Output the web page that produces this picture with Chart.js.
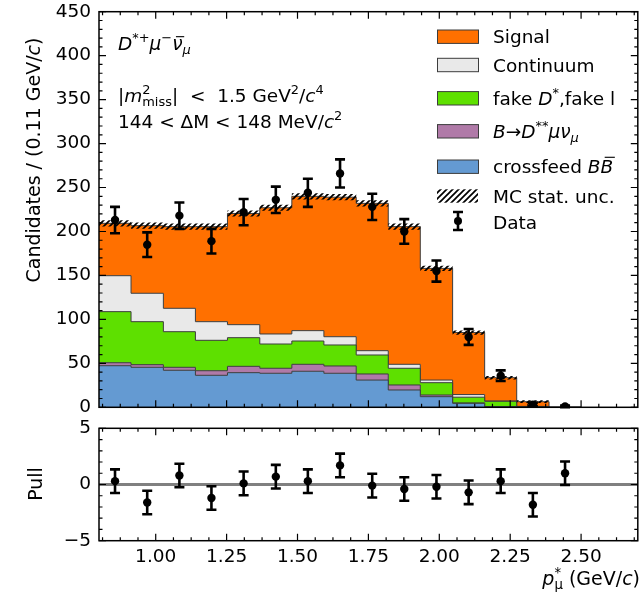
<!DOCTYPE html>
<html>
<head>
<meta charset="utf-8">
<script src="https://cdn.jsdelivr.net/npm/chart.js@4.4.1/dist/chart.umd.min.js"></script>
<style>
html, body { margin: 0; padding: 0; background: #fff; overflow: hidden; }
#wrap { position: relative; width: 642px; height: 611px; }
canvas { position: absolute; left: 0; }
#main { top: 0; }
#pull { top: 405px; }
</style>
</head>
<body>
<div id="wrap">
  <canvas id="main" width="642" height="420"></canvas>
  <canvas id="pull" width="642" height="206"></canvas>
</div>
<script>
// bin edges of p*_mu (GeV/c), 15 bins
const binEdges = [0.800, 0.913, 1.027, 1.140, 1.253, 1.367, 1.480, 1.593, 1.707, 1.820, 1.933, 2.047, 2.160, 2.273, 2.387, 2.500];

// MC components per bin (stacked bottom -> top)
const crossfeedBB = [47.3, 45.5, 42.1, 36.4, 39.4, 38.7, 41.0, 38.7, 31.0, 19.7, 12.1, 4.5, 0.5, 0.0, 0.0];
const dssMuNu     = [3.4, 3.0, 3.4, 5.2, 7.2, 5.7, 7.9, 8.3, 6.9, 5.7, 1.9, 0.5, 0.3, 0.0, 0.0];
const fakeDstar   = [58.1, 48.9, 40.5, 34.6, 32.6, 27.6, 26.5, 23.9, 21.6, 19.0, 14.0, 6.5, 6.0, 0.8, 0.0];
const continuum   = [40.9, 32.3, 26.6, 21.2, 14.8, 11.4, 11.8, 9.4, 4.9, 4.5, 3.0, 3.0, 0.4, 0.2, 0.0];
const signal      = [59.6, 76.9, 92.9, 108.1, 126.5, 143.6, 152.8, 158.7, 167.6, 156.6, 127.0, 70.5, 26.5, 5.4, 0.0];
const mcStatUnc   = [3.5, 3.5, 3.5, 3.5, 3.5, 3.5, 3.5, 3.5, 3.5, 3.5, 3.0, 2.5, 2.0, 1.5, 0.0];

// data
const dataCounts = [213, 185, 218, 189, 222, 236, 244, 266, 228, 200, 155, 80, 36, 3, 1];
const dataErrors = [15, 14, 15, 14, 15, 15, 16, 16, 15, 14, 12, 9, 6, 2, 1];

// pulls
const pullValues = [0.3, -1.6, 0.8, -1.2, 0.1, 0.7, 0.3, 1.7, -0.1, -0.4, -0.2, -0.7, 0.3, -1.8, 1.0];
const pullErrors = [1.05, 1.05, 1.05, 1.05, 1.05, 1.05, 1.05, 1.05, 1.05, 1.05, 1.05, 1.05, 1.05, 1.05, 1.05];

// tick labels
const xTicks = [1.00, 1.25, 1.50, 1.75, 2.00, 2.25, 2.50];
const yTicks = [0, 50, 100, 150, 200, 250, 300, 350, 400, 450];
const pullTicks = [-5, 0, 5];

const FONT = '"DejaVu Sans", sans-serif';
const C_SIGNAL = '#ff7000';
const C_CONT = '#e9e9e9';
const C_FAKE = '#5ee000';
const C_DSS = '#b07aa8';
const C_XFEED = '#649ad2';
const C_EDGE = '#3c3c3c';

const binCenters = binEdges.slice(0, -1).map((e, i) => (e + binEdges[i + 1]) / 2);
const totals = signal.map((s, i) => s + continuum[i] + fakeDstar[i] + dssMuNu[i] + crossfeedBB[i]);

// points at lower bin edges, drawn as steps; last edge repeats the last value
function stepPoints(values) {
    return binEdges.map((x, i) => ({ x, y: values[Math.min(i, values.length - 1)] }));
}

function hatchPattern() {
    const c = document.createElement('canvas');
    c.width = 6; c.height = 6;
    const g = c.getContext('2d');
    g.strokeStyle = '#000';
    g.lineWidth = 1.7;
    g.beginPath();
    g.moveTo(-1, 7); g.lineTo(7, -1);
    g.moveTo(-1, 1); g.lineTo(1, -1);
    g.moveTo(5, 7); g.lineTo(7, 5);
    g.stroke();
    return g.createPattern(c, 'repeat');
}
const HATCH = hatchPattern();

// rich text: segments {t, it, pos:'sup'|'sub', hold, bar}
function drawRich(ctx, segs, x, y, size, align) {
    const fnt = s => (s.it ? 'italic ' : '') + (s.pos ? size * 0.7 : size) + 'px ' + FONT;
    const widths = [];
    let total = 0, held = 0;
    segs.forEach((s, i) => {
        ctx.font = fnt(s);
        widths[i] = ctx.measureText(s.t).width;
        if (s.hold) { held = widths[i]; return; }
        total += Math.max(widths[i], held);
        held = 0;
    });
    let cx = align === 'right' ? x - total : align === 'center' ? x - total / 2 : x;
    held = 0;
    ctx.textAlign = 'left';
    ctx.textBaseline = 'alphabetic';
    segs.forEach((s, i) => {
        ctx.font = fnt(s);
        const dy = s.pos === 'sup' ? -0.42 * size : s.pos === 'sub' ? 0.22 * size : 0;
        ctx.fillText(s.t, cx, y + dy);
        if (s.bar) {
            const by = y + dy - s.bar * size;
            const sk = s.it ? 0.12 * size : 0;
            ctx.save();
            ctx.strokeStyle = ctx.fillStyle;
            ctx.lineWidth = size * 0.06;
            ctx.beginPath();
            ctx.moveTo(cx + widths[i] * 0.15 + sk, by);
            ctx.lineTo(cx + widths[i] * 0.95 + sk, by);
            ctx.stroke();
            ctx.restore();
        }
        if (s.hold) { held = widths[i]; return; }
        cx += Math.max(widths[i], held);
        held = 0;
    });
}

// inward ticks on all four sides plus the frame
function frameTicks(xStep, xMajor, yStep, yMajor) {
    return {
        id: 'frameTicks',
        afterDraw(chart) {
            const { ctx, chartArea: a } = chart;
            const xs = chart.scales.x, ys = chart.scales.y;
            ctx.save();
            ctx.strokeStyle = '#000';
            ctx.lineWidth = 1.2;
            ctx.beginPath();
            const isMajor = (v, m) => Math.abs(v / m - Math.round(v / m)) < 1e-6;
            for (let k = Math.ceil(xs.min / xStep - 1e-6); k * xStep <= xs.max + 1e-9; k++) {
                const v = k * xStep;
                const px = xs.getPixelForValue(v);
                const len = isMajor(v, xMajor) ? 7 : 3.5;
                ctx.moveTo(px, a.bottom); ctx.lineTo(px, a.bottom - len);
                ctx.moveTo(px, a.top); ctx.lineTo(px, a.top + len);
            }
            for (let k = Math.ceil(ys.min / yStep - 1e-6); k * yStep <= ys.max + 1e-9; k++) {
                const v = k * yStep;
                const py = ys.getPixelForValue(v);
                const len = isMajor(v, yMajor) ? 7 : 3.5;
                ctx.moveTo(a.left, py); ctx.lineTo(a.left + len, py);
                ctx.moveTo(a.right, py); ctx.lineTo(a.right - len, py);
            }
            ctx.stroke();
            ctx.lineWidth = 1.5;
            ctx.strokeRect(a.left, a.top, a.right - a.left, a.bottom - a.top);
            ctx.restore();
        }
    };
}

function errorBars(vals, errs, yId) {
    return {
        id: 'errorBars',
        afterDatasetsDraw(chart) {
            const ctx = chart.ctx;
            const xs = chart.scales.x, ys = chart.scales[yId];
            ctx.save();
            ctx.strokeStyle = '#000';
            ctx.lineWidth = 2.6;
            ctx.beginPath();
            binCenters.forEach((c, i) => {
                const px = xs.getPixelForValue(c);
                const lo = ys.getPixelForValue(Math.max(vals[i] - errs[i], ys.min));
                const hi = ys.getPixelForValue(vals[i] + errs[i]);
                ctx.moveTo(px, lo); ctx.lineTo(px, hi);
                ctx.moveTo(px - 5, lo); ctx.lineTo(px + 5, lo);
                ctx.moveTo(px - 5, hi); ctx.lineTo(px + 5, hi);
            });
            ctx.stroke();
            ctx.restore();
        }
    };
}

const annotations = {
    id: 'annotations',
    afterDraw(chart) {
        const ctx = chart.ctx;
        ctx.save();
        ctx.fillStyle = '#000';
        // y axis title
        ctx.save();
        ctx.translate(40, 160);
        ctx.rotate(-Math.PI / 2);
        drawRich(ctx, [{ t: 'Candidates / (0.11 GeV/' }, { t: 'c', it: 1 }, { t: ')' }], 0, 0, 19, 'center');
        ctx.restore();

        drawRich(ctx, [
            { t: 'D', it: 1 }, { t: '*+', pos: 'sup' }, { t: 'μ', it: 1 }, { t: '−', pos: 'sup' },
            { t: 'ν', it: 1, bar: 0.72 }, { t: 'μ', it: 1, pos: 'sub' }
        ], 118, 50, 18.5, 'left');
        drawRich(ctx, [
            { t: '|' }, { t: 'm', it: 1 }, { t: '2', pos: 'sup', hold: 1 }, { t: 'miss', pos: 'sub' },
            { t: '|  <  1.5 GeV' }, { t: '2', pos: 'sup' }, { t: '/' }, { t: 'c', it: 1 }, { t: '4', pos: 'sup' }
        ], 118, 102, 18.5, 'left');
        drawRich(ctx, [
            { t: '144 < ΔM < 148 MeV/' }, { t: 'c', it: 1 }, { t: '2', pos: 'sup' }
        ], 118, 128, 18.5, 'left');

        // legend
        const rows = [
            { segs: [{ t: 'Signal' }], fill: C_SIGNAL, y: 36.7 },
            { segs: [{ t: 'Continuum' }], fill: C_CONT, y: 65 },
            { segs: [{ t: 'fake ' }, { t: 'D', it: 1 }, { t: '*', pos: 'sup' }, { t: ',fake l' }], fill: C_FAKE, y: 98.3 },
            { segs: [{ t: 'B', it: 1 }, { t: '→' }, { t: 'D', it: 1 }, { t: '**', pos: 'sup' }, { t: 'μν', it: 1 }, { t: 'μ', it: 1, pos: 'sub' }], fill: C_DSS, y: 131.3 },
            { segs: [{ t: 'crossfeed ' }, { t: 'B', it: 1 }, { t: 'B', it: 1, bar: 0.86 }], fill: C_XFEED, y: 166.7 },
            { segs: [{ t: 'MC stat. unc.' }], fill: 'hatch', y: 196 },
            { segs: [{ t: 'Data' }], fill: 'data', y: 221 }
        ];
        rows.forEach(r => {
            if (r.fill === 'data') {
                ctx.strokeStyle = '#000';
                ctx.lineWidth = 2.6;
                ctx.beginPath();
                ctx.moveTo(458, r.y - 9); ctx.lineTo(458, r.y + 9);
                ctx.moveTo(453, r.y - 9); ctx.lineTo(463, r.y - 9);
                ctx.moveTo(453, r.y + 9); ctx.lineTo(463, r.y + 9);
                ctx.stroke();
                ctx.beginPath();
                ctx.arc(458, r.y, 4, 0, Math.PI * 2);
                ctx.fill();
            } else if (r.fill === 'hatch') {
                ctx.fillStyle = HATCH;
                ctx.fillRect(437, r.y - 6.7, 41, 13.4);
                ctx.fillStyle = '#000';
            } else {
                ctx.fillStyle = r.fill;
                ctx.fillRect(437, r.y - 6.7, 41, 13.4);
                ctx.strokeStyle = C_EDGE;
                ctx.lineWidth = 1;
                ctx.strokeRect(437.5, r.y - 6.7, 41, 13.4);
                ctx.fillStyle = '#000';
            }
            drawRich(ctx, r.segs, 493, r.y + (r.fill === 'data' ? 8 : 6.5), 18.5, 'left');
        });
        ctx.restore();
    }
};

function component(values, color, fill) {
    return {
        data: stepPoints(values),
        stepped: true,
        fill,
        backgroundColor: color,
        borderColor: C_EDGE,
        borderWidth: 1,
        pointRadius: 0,
        order: 10
    };
}

const tickFont = { family: FONT, size: 18.5 };
// invisible tick marks keep the labels 8px off the frame without adding label padding
const hiddenGrid = { display: true, drawOnChartArea: false, drawTicks: true, tickLength: 8, color: 'rgba(0,0,0,0)' };

new Chart(document.getElementById('main'), {
    type: 'line',
    data: {
        datasets: [
            component(crossfeedBB, C_XFEED, 'origin'),
            component(dssMuNu, C_DSS, '-1'),
            component(fakeDstar, C_FAKE, '-1'),
            component(continuum, C_CONT, '-1'),
            component(signal, C_SIGNAL, '-1'),
            {
                yAxisID: 'y2',
                data: stepPoints(totals.map((t, i) => t - mcStatUnc[i])),
                stepped: true, fill: false, borderWidth: 0, pointRadius: 0, order: 5
            },
            {
                yAxisID: 'y2',
                data: stepPoints(totals.map((t, i) => t + mcStatUnc[i])),
                stepped: true, fill: '-1', backgroundColor: HATCH, borderWidth: 0, pointRadius: 0, order: 5
            },
            {
                yAxisID: 'y2',
                data: binCenters.map((x, i) => ({ x, y: dataCounts[i] })),
                showLine: false, pointRadius: 4.2, pointBackgroundColor: '#000', pointBorderWidth: 0, order: 0
            }
        ]
    },
    options: {
        responsive: false,
        animation: false,
        devicePixelRatio: 1,
        layout: { padding: { top: 11.7, right: 0, bottom: 12.7, left: 0 } },
        plugins: { legend: { display: false }, tooltip: { enabled: false } },
        scales: {
            x: { type: 'linear', min: 0.8, max: 2.7, display: false },
            y: {
                min: 0, max: 450, stacked: true,
                afterFit(s) { s.width = 99; },
                afterBuildTicks(s) { s.ticks = yTicks.map(v => ({ value: v })); },
                grid: hiddenGrid,
                border: { display: false },
                ticks: { font: tickFont, color: '#000', padding: 0, autoSkip: false }
            },
            y2: { type: 'linear', min: 0, max: 450, display: false }
        }
    },
    plugins: [errorBars(dataCounts, dataErrors, 'y2'), frameTicks(0.0625, 0.25, 10, 50), annotations]
});

const zeroLine = {
    id: 'zeroLine',
    beforeDatasetsDraw(chart) {
        const { ctx, chartArea: a } = chart;
        const py = chart.scales.y.getPixelForValue(0);
        ctx.save();
        ctx.strokeStyle = '#808080';
        ctx.lineWidth = 3;
        ctx.beginPath();
        ctx.moveTo(a.left, py); ctx.lineTo(a.right, py);
        ctx.stroke();
        ctx.restore();
    }
};

const pullTitles = {
    id: 'pullTitles',
    afterDraw(chart) {
        const ctx = chart.ctx;
        ctx.save();
        ctx.fillStyle = '#000';
        ctx.save();
        ctx.translate(42, 79);
        ctx.rotate(-Math.PI / 2);
        drawRich(ctx, [{ t: 'Pull' }], 0, 0, 19, 'center');
        ctx.restore();
        drawRich(ctx, [
            { t: 'p', it: 1 }, { t: '*', pos: 'sup', hold: 1 }, { t: 'μ', pos: 'sub' }, { t: ' (GeV/' }, { t: 'c', it: 1 }, { t: ')' }
        ], 640, 180, 19, 'right');
        ctx.restore();
    }
};

new Chart(document.getElementById('pull'), {
    type: 'line',
    data: {
        datasets: [{
            data: binCenters.map((x, i) => ({ x, y: pullValues[i] })),
            showLine: false, pointRadius: 4.2, pointBackgroundColor: '#000', pointBorderWidth: 0
        }]
    },
    options: {
        responsive: false,
        animation: false,
        devicePixelRatio: 1,
        layout: { padding: { top: 23.3, right: 0, bottom: 30.3, left: 0 } },
        plugins: { legend: { display: false }, tooltip: { enabled: false } },
        scales: {
            x: {
                type: 'linear', min: 0.8, max: 2.7,
                afterFit(s) { s.height = 40; },
                afterBuildTicks(s) { s.ticks = xTicks.map(v => ({ value: v })); },
                grid: { display: false, drawTicks: false },
                border: { display: false },
                ticks: { font: tickFont, color: '#000', padding: 5, maxRotation: 0, autoSkip: false, callback: v => Number(v).toFixed(2) }
            },
            y: {
                min: -5, max: 5,
                afterFit(s) { s.width = 99; },
                afterBuildTicks(s) { s.ticks = pullTicks.map(v => ({ value: v })); },
                grid: hiddenGrid,
                border: { display: false },
                ticks: { font: tickFont, color: '#000', padding: 0, autoSkip: false, callback: v => v < 0 ? '\u2212' + Math.abs(v) : String(v) }
            }
        }
    },
    plugins: [zeroLine, errorBars(pullValues, pullErrors, 'y'), frameTicks(0.0625, 0.25, 1, 5), pullTitles]
});
</script>
</body>
</html>
